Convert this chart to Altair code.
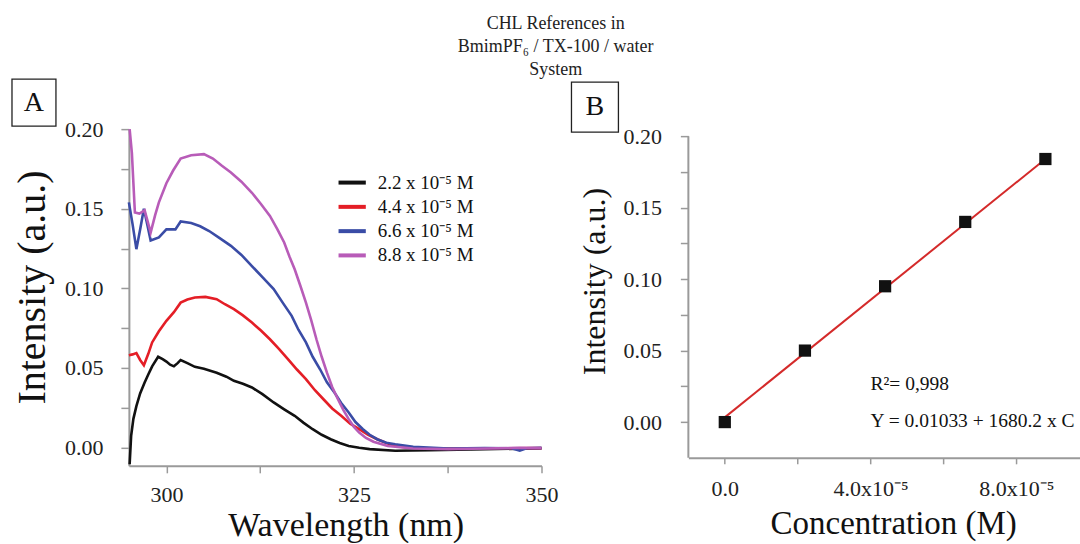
import altair as alt
import pandas as pd

FONT = "Liberation Serif"

# ---------------- Panel A: emission spectra ----------------
wl_black = [295.1, 295.3, 295.6, 296.0, 296.5, 297.1, 297.6, 298.1, 298.9, 299.5, 300.0, 300.5, 301.0, 301.5,
            301.9, 302.8, 303.8, 305.0, 306.7, 308.0, 309.0, 310.2, 311.4, 312.8, 314.3, 315.7, 317.1, 318.3,
            319.5, 320.7, 321.9, 323.1, 324.3, 325.7, 327.1, 330.5, 335.2, 342.4, 350.0]
int_black = [-0.0105, 0.0073, 0.018, 0.026, 0.034, 0.0408, 0.046, 0.051, 0.057, 0.0555, 0.054, 0.052, 0.051, 0.053,
             0.055, 0.053, 0.0507, 0.0495, 0.047, 0.0445, 0.0419, 0.040, 0.0377, 0.0335, 0.0283, 0.024, 0.0199, 0.0155,
             0.0115, 0.008, 0.0052, 0.0028, 0.001, -0.0002, -0.001, -0.002, -0.0017, -0.001, -0.0006]

wl_red = [295.0, 295.5, 296.0, 296.5, 297.0, 297.6, 298.1, 299.0, 300.0, 301.0, 301.9, 302.8, 303.8, 305.2, 306.7,
          307.8, 309.0, 310.2, 311.4, 312.6, 313.8, 315.0, 316.2, 317.4, 318.6, 319.8, 321.0, 322.1, 323.3, 324.5,
          325.7, 326.9, 328.1, 329.3, 330.5, 332.0, 335.2, 342.4, 350.0]
int_red = [0.058, 0.0585, 0.0593, 0.055, 0.0517, 0.059, 0.066, 0.073, 0.0796, 0.085, 0.091, 0.093, 0.0942, 0.0946,
           0.0932, 0.090, 0.0869, 0.083, 0.0785, 0.0735, 0.068, 0.062, 0.0555, 0.049, 0.043, 0.036, 0.030, 0.0245,
           0.0199, 0.015, 0.0115, 0.008, 0.0052, 0.0028, 0.001, 0.0, -0.0006, -0.0006, -0.0004]

wl_blue = [295.0, 295.5, 296.0, 296.5, 297.0, 297.5, 297.9, 299.0, 300.0, 301.2, 301.9, 303.3, 304.5, 305.7, 307.1,
           308.6, 310.0, 311.4, 312.8, 314.3, 315.5, 316.7, 317.6, 318.6, 319.5, 320.5, 321.4, 322.4, 323.3, 324.3,
           325.2, 326.2, 327.1, 328.1, 329.3, 330.5, 332.9, 337.6, 342.4, 346.0, 347.1, 348.0, 350.0]
int_blue = [0.154, 0.140, 0.1246, 0.137, 0.150, 0.139, 0.130, 0.132, 0.137, 0.137, 0.142, 0.141, 0.139, 0.136,
            0.1315, 0.1267, 0.121, 0.114, 0.107, 0.0995, 0.091, 0.0827, 0.074, 0.066, 0.057, 0.049, 0.041, 0.0346,
            0.028, 0.022, 0.016, 0.0115, 0.008, 0.0052, 0.003, 0.002, 0.0004, -0.0006, -0.0004, -0.0005, -0.002,
            -0.0005, -0.0002]

wl_magenta = [295.1, 295.4, 295.8, 296.4, 297.1, 297.5, 297.9, 298.5, 299.0, 300.0, 300.9, 301.9, 303.3, 305.0,
              306.2, 307.4, 308.6, 310.0, 311.4, 312.6, 313.8, 314.8, 315.7, 316.4, 317.1, 317.9, 318.6, 319.3,
              320.0, 320.7, 321.4, 322.1, 322.9, 323.6, 324.3, 325.0, 325.7, 326.6, 327.6, 329.5, 332.9, 337.6,
              342.4, 347.1, 350.0]
int_magenta = [0.200, 0.185, 0.1476, 0.147, 0.149, 0.142, 0.135, 0.146, 0.154, 0.166, 0.174, 0.1815, 0.1836, 0.1843,
               0.1815, 0.177, 0.1728, 0.167, 0.160, 0.153, 0.1455, 0.137, 0.1288, 0.120, 0.112, 0.101, 0.091, 0.080,
               0.068, 0.057, 0.047, 0.038, 0.030, 0.0235, 0.0178, 0.013, 0.0094, 0.006, 0.0036, 0.001, -0.0006,
               -0.001, -0.0006, -0.0002, -0.0004]

series_labels = ["2.2 x 10\u207b\u2075 M", "4.4 x 10\u207b\u2075 M", "6.6 x 10\u207b\u2075 M", "8.8 x 10\u207b\u2075 M"]
series_colors = ["#111111", "#e41e26", "#3a4ca6", "#b85cb8"]

a_x_ticks = [300, 312.5, 325, 337.5, 350]
a_x_labels = ["300", "", "325", "", "350"]
a_y_ticks = [0, 0.025, 0.05, 0.075, 0.10, 0.125, 0.15, 0.175, 0.20]
a_y_labels = ["0.00", "", "0.05", "", "0.10", "", "0.15", "", "0.20"]

# ---------------- Panel B: calibration ----------------
conc = [0.0, 2.2e-5, 4.4e-5, 6.6e-5, 8.8e-5]
intensity = [0.0, 0.050, 0.095, 0.140, 0.184]
fit_conc = [0.0, 8.8e-5]
fit_int = [0.0033, 0.184]

b_x_ticks = [0.0, 2e-5, 4e-5, 6e-5, 8e-5]
b_x_labels = ["0.0", "", "4.0x10\u207b\u2075", "", "8.0x10\u207b\u2075"]
b_y_ticks = [0, 0.025, 0.05, 0.075, 0.10, 0.125, 0.15, 0.175, 0.20]
b_y_labels = ["0.00", "", "0.05", "", "0.10", "", "0.15", "", "0.20"]
b_y_axis_span = [-0.025, 0.20]

ann_text = ["R\u00b2= 0,998", "Y = 0.01033 + 1680.2 x C"]
ann_x = [4.0e-5, 4.0e-5]
ann_y = [0.0267, 0.0009]

title_lines = ["CHL References in", "BmimPF\u2086 / TX-100 / water", "System"]


def label_expr(values, labels):
    expr = "''"
    for v, l in zip(values, labels):
        expr = f"(abs(datum.value - ({v})) < 1e-9 ? '{l}' : {expr})"
    return expr


AXIS_GREY = "#9a9a9a"
AX = dict(grid=False, domainColor=AXIS_GREY, tickColor=AXIS_GREY, domainWidth=2, tickWidth=1.5,
          labelFont=FONT, labelColor="#222222", labelFontSize=22, titleFont=FONT, titleColor="#111111",
          titleFontWeight="normal", labelFlush=False, labelOverlap=False)

rows = []
for name, xs, ys in zip(series_labels, [wl_black, wl_red, wl_blue, wl_magenta],
                        [int_black, int_red, int_blue, int_magenta]):
    for x, y in zip(xs, ys):
        rows.append({"wl": x, "val": y, "series": name})
dfA = pd.DataFrame(rows)

lines = alt.Chart(dfA).mark_line(strokeWidth=2.6).encode(
    x=alt.X("wl:Q", scale=alt.Scale(domain=[295, 350], nice=False, zero=False),
            axis=alt.Axis(values=a_x_ticks, labelExpr=label_expr(a_x_ticks, a_x_labels),
                          title="Wavelength (nm)", titleFontSize=34, tickSize=7, labelPadding=12,
                          titlePadding=3, titleX=217, **AX)),
    y=alt.Y("val:Q", scale=alt.Scale(domain=[-0.0115, 0.20], nice=False, zero=False),
            axis=alt.Axis(values=a_y_ticks, labelExpr=label_expr(a_y_ticks, a_y_labels),
                          title="Intensity (a.u.)", titleFontSize=40, tickSize=8, labelPadding=18,
                          titleX=-76, titleY=158, **AX)),
    color=alt.Color("series:N", scale=alt.Scale(domain=series_labels, range=series_colors),
                    legend=alt.Legend(title=None, orient="none", legendX=211, legendY=41,
                                      symbolType="M-1.3,0L1.3,0", symbolSize=441, symbolStrokeWidth=4,
                                      labelFont=FONT, labelFontSize=19, labelColor="#111111",
                                      rowPadding=1.3, labelOffset=13)),
)

one = pd.DataFrame({"k": [0]})
boxA = alt.Chart(one).mark_rect(fill="transparent", stroke="#222222", strokeWidth=1.3).encode(
    x=alt.value(-117), x2=alt.value(-73), y=alt.value(-50), y2=alt.value(-3))
letA = alt.Chart(one).mark_text(text="A", font=FONT, fontSize=28, align="center", baseline="middle",
                                color="#111111").encode(x=alt.value(-95), y=alt.value(-26))

panelA = alt.layer(lines, boxA, letA).properties(width=413, height=337)

dfB = pd.DataFrame({"c": conc, "i": intensity})
dfFit = pd.DataFrame({"c": fit_conc, "i": fit_int})
dfAnn = pd.DataFrame({"c": ann_x, "i": ann_y, "t": ann_text})
dfAxis = pd.DataFrame({"c": [-1e-5], "i": [b_y_axis_span[0]], "i2": [b_y_axis_span[1]]})

xB = alt.X("c:Q", scale=alt.Scale(domain=[-1e-5, 9.75e-5], nice=False, zero=False),
           axis=alt.Axis(values=b_x_ticks, labelExpr=label_expr(b_x_ticks, b_x_labels),
                         title="Concentration (M)", titleFontSize=33, tickSize=6, labelPadding=15,
                         titlePadding=8, titleX=205, **AX))
yB = alt.Y("i:Q", scale=alt.Scale(domain=[-0.025, 0.2049], nice=False, zero=False),
           axis=alt.Axis(values=b_y_ticks, labelExpr=label_expr(b_y_ticks, b_y_labels),
                         title="Intensity (a.u.)", titleFontSize=32, tickSize=8, labelPadding=19,
                         titleX=-77, titleY=152, domain=False, **AX))

yaxis_line = alt.Chart(dfAxis).mark_rule(color=AXIS_GREY, strokeWidth=2).encode(x=xB, y=yB, y2="i2:Q")
fit = alt.Chart(dfFit).mark_line(color="#d42a2a", strokeWidth=2).encode(x="c:Q", y="i:Q")
pts = alt.Chart(dfB).mark_square(size=150, color="#111111", opacity=1).encode(x="c:Q", y="i:Q")
ann = alt.Chart(dfAnn).mark_text(font=FONT, fontSize=19.5, align="left", baseline="middle",
                                 color="#111111").encode(x="c:Q", y="i:Q", text="t:N")
boxB = alt.Chart(one).mark_rect(fill="transparent", stroke="#222222", strokeWidth=1.3).encode(
    x=alt.value(-117), x2=alt.value(-70), y=alt.value(-47), y2=alt.value(3))
letB = alt.Chart(one).mark_text(text="B", font=FONT, fontSize=28, align="center", baseline="middle",
                                color="#111111").encode(x=alt.value(-93.5), y=alt.value(-22))

panelB = alt.layer(yaxis_line, fit, pts, ann, boxB, letB).properties(width=392, height=329)

chart = alt.hconcat(panelA, panelB, spacing=12).properties(
    title=alt.TitleParams(text=title_lines, font=FONT, fontSize=18, fontWeight="normal", lineHeight=23,
                          anchor="middle", offset=0, dx=10, color="#222222"),
    padding={"left": 11, "top": 14, "right": 0, "bottom": 0},
).configure_view(strokeWidth=0)

chart.save("out.html", embed_options={"renderer": "svg", "actions": False})
